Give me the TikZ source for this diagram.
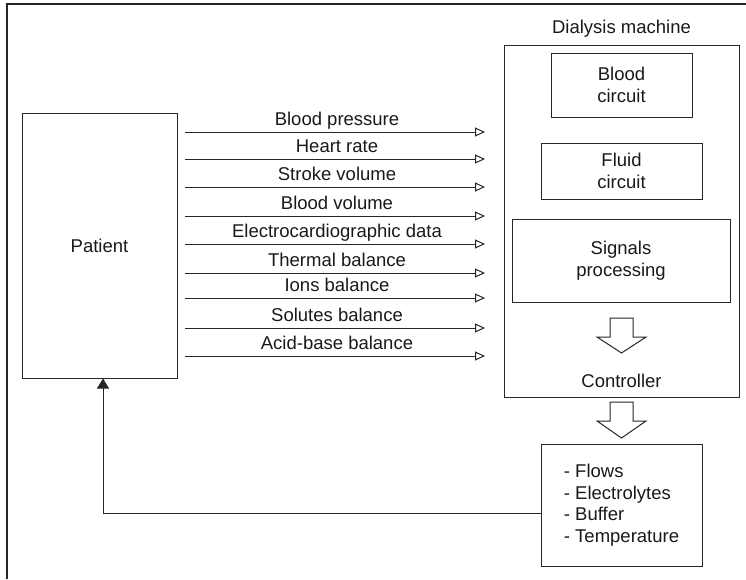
\documentclass[tikz,border=0pt]{standalone}
\usepackage{fontspec}
\setmainfont{Liberation Sans}
\usetikzlibrary{arrows.meta}
\begin{document}
\begin{tikzpicture}[x=1pt,y=-1pt,
  every node/.style={font=\fontsize{18.5}{21.5}\selectfont, text=black!90},
  box/.style={draw=black!85, line width=1pt, inner sep=0pt, align=center},
  sig/.style={draw=black!85, line width=1pt, -{Triangle[open,length=10pt,width=9pt,fill=white]}},
  lbl/.style={anchor=base, inner sep=0pt},
  blockarrow/.style={draw=black!85, line width=1pt, fill=white, line join=miter},
  fb/.style={draw=black!85, line width=1pt, -{Triangle[length=10pt,width=12pt]}}]
\useasboundingbox (0,0) rectangle (746,579);
% outer frame (cropped)
\draw[black!85, line width=1.2pt] (7,579) -- (7,4) -- (746,4);

% patient
\node[box, minimum width=155pt, minimum height=265pt] (patient) at (99.5,245.5) {Patient};

% dialysis machine
\node[box, minimum width=235pt, minimum height=352pt] (machine) at (621.5,221) {};
\node[lbl] (mlabel) at (621.5,33) {Dialysis machine};
\node[box, minimum width=141pt, minimum height=64pt] (blood) at (621.5,85) {Blood\\circuit};
\node[box, minimum width=161pt, minimum height=56pt] (fluid) at (621.5,171) {Fluid\\circuit};
\node[box, minimum width=218pt, minimum height=83pt] (signals) at (621,260.5) {Signals\\processing};
\draw[blockarrow] (610,318) -- (633,318) -- (633,337) -- (646,337) -- (621.5,353) -- (597,337) -- (610,337) -- cycle;
\node[lbl] (ctrl) at (621.5,387) {Controller};
\draw[blockarrow] (610,402) -- (633,402) -- (633,421) -- (646,421) -- (621.5,438) -- (597,421) -- (610,421) -- cycle;

% outputs
\node[box, align=left, minimum width=161pt, minimum height=122pt] (out) at (621.5,505)
  {- Flows\\- Electrolytes\\- Buffer\\- Temperature};

% signal arrows
\foreach \y/\t in {132/Blood pressure, 159/Heart rate, 187/Stroke volume, 216/Blood volume,
  244/Electrocardiographic data, 273/Thermal balance, 298/Ions balance,
  328/Solutes balance, 356/Acid-base balance}{
  \coordinate (a\y) at (185,\y);
  \coordinate (b\y) at (485,\y);
  \draw[sig] (a\y) -- (b\y);
  \node[lbl] (l\y) at (337,\y-7) {\t};
}

% feedback
\coordinate (fbc) at (103,513);
\draw[fb] (out.west |- fbc) -- (fbc) -- (patient.south -| fbc);
\end{tikzpicture}
\end{document}
